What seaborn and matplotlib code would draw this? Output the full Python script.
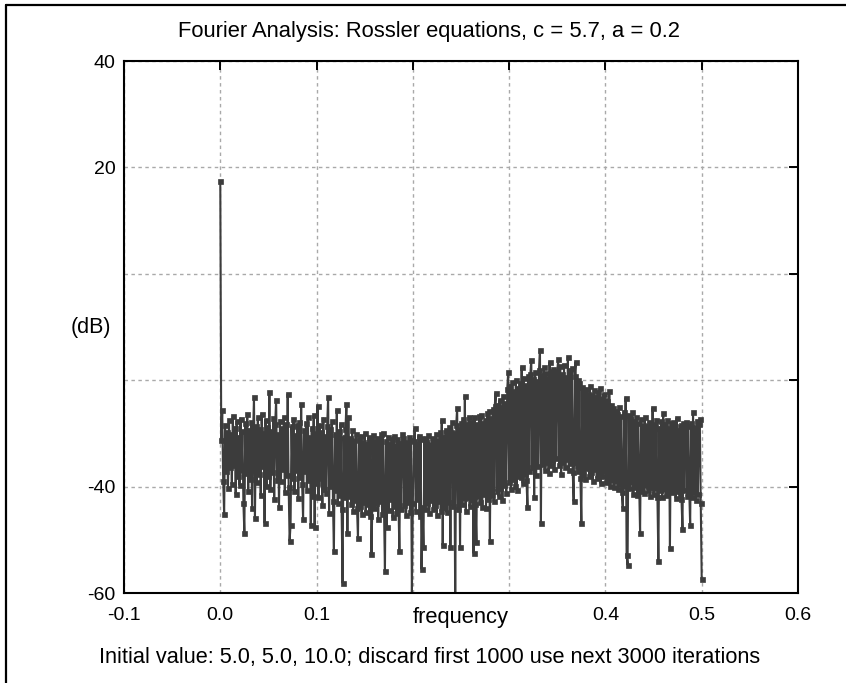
import numpy as np
import pandas as pd
import matplotlib
matplotlib.use("Agg")
import matplotlib.pyplot as plt
import seaborn as sns
from matplotlib.lines import Line2D

# ---------------- data ----------------
title_text = "Fourier Analysis: Rossler equations, c = 5.7, a = 0.2"
footer_text = "Initial value: 5.0, 5.0, 10.0; discard first 1000 use next 3000 iterations"
x_label = "frequency"
y_label = "(dB)"

x_ticks = [-0.1, 0.0, 0.1, 0.2, 0.3, 0.4, 0.5, 0.6]
x_tick_labels = ["-0.1", "0.0", "0.1", "", "", "0.4", "0.5", "0.6"]
y_ticks = [40, 20, 0, -20, -40, -60]
y_tick_labels = ["40", "20", "", "", "-40", "-60"]

freq_start = 0.0
freq_stop = 0.5

# power spectrum (dB), evenly spaced bins from 0.0 to 0.5
power_db = [
    17.4, -31.2, -25.6, -38.9, -45.2, -28.4, -37.1, -29.8, -40.2, -27.5,
    -36.4, -30.1, -39.5, -26.8, -35.9, -28.9, -41.3, -27.7, -38.0, -30.6,
    -39.7, -27.2, -36.8, -29.5, -43.1, -48.7, -28.1, -37.5, -26.4, -40.8,
    -29.3, -38.6, -27.9, -44.0, -30.4, -23.2, -45.9, -28.6, -39.2, -27.0,
    -37.7, -29.1, -41.6, -26.3, -36.2, -30.0, -46.8, -27.4, -39.9, -28.8,
    -38.1, -22.2, -40.5, -29.6, -37.3, -27.1, -42.4, -28.3, -23.7, -38.7,
    -30.2, -43.8, -27.6, -39.0, -29.0, -36.6, -26.9, -41.1, -28.2, -37.9,
    -22.6, -40.0, -50.2, -47.2, -28.7, -38.4, -27.3, -40.9, -30.3, -36.9,
    -28.5, -42.2, -27.8, -38.2, -24.5, -39.6, -46.1, -29.4, -37.0, -28.0,
    -40.7, -27.0, -38.8, -30.7, -47.2, -28.9, -41.8, -26.6, -47.6, -30.0,
    -39.3, -24.8, -42.0, -28.4, -38.3, -29.7, -43.5, -27.2, -40.4, -30.5,
    -41.2, -28.6, -23.2, -45.0, -29.2, -39.8, -27.7, -42.7, -52.1, -30.1,
    -40.6, -25.6, -43.0, -29.5, -41.5, -28.3, -44.3, -58.1, -30.6, -42.0,
    -29.1, -24.5, -48.7, -26.9, -41.8, -30.9, -43.2, -29.4, -44.6, -31.3,
    -42.5, -30.2, -44.1, -49.7, -31.0, -43.7, -30.4, -45.2, -31.6, -42.9,
    -30.0, -44.8, -31.9, -43.3, -30.7, -45.5, -31.2, -52.7, -42.6, -30.3,
    -44.0, -31.5, -43.1, -30.8, -46.0, -31.7, -42.8, -30.1, -45.1, -29.9,
    -43.9, -55.9, -31.4, -47.6, -30.6, -44.4, -32.0, -42.3, -31.1, -45.8,
    -30.5, -43.6, -32.2, -44.9, -31.0, -42.7, -52.1, -31.8, -44.2, -30.2,
    -30.9, -43.4, -31.6, -45.3, -32.1, -42.9, -30.7, -44.7, -31.3, -60.3,
    -43.0, -31.5, -29.0, -44.5, -31.9, -42.4, -30.4, -45.6, -31.1, -55.5,
    -43.8, -51.4, -30.8, -44.2, -31.7, -43.1, -30.3, -45.0, -32.0, -42.6,
    -30.9, -44.3, -31.4, -43.5, -30.1, -45.4, -31.2, -42.8, -29.8, -44.6,
    -27.5, -51.0, -30.6, -43.9, -29.4, -44.8, -30.2, -42.9, -28.8, -51.4,
    -29.7, -27.9, -43.6, -30.0, -62.5, -28.5, -25.2, -44.2, -29.1, -51.4,
    -28.0, -43.3, -27.2, -42.1, -23.0, -44.5, -28.3, -41.9, -26.9, -43.7,
    -27.8, -42.6, -28.6, -52.5, -27.0, -43.2, -50.4, -28.2, -41.7, -26.7,
    -42.9, -26.5, -43.8, -28.0, -41.4, -27.5, -44.0, -26.2, -42.3, -25.8,
    -50.2, -27.1, -41.6, -25.5, -42.8, -24.9, -22.4, -40.9, -24.6, -41.8,
    -23.8, -40.3, -25.1, -42.5, -22.9, -39.7, -24.3, -41.2, -21.7, -18.5,
    -39.1, -21.0, -40.4, -20.4, -38.5, -22.1, -39.8, -19.9, -40.7, -21.4,
    -38.0, -20.6, -38.2, -17.5, -39.3, -19.5, -37.6, -20.9, -38.8, -43.8,
    -19.3, -37.1, -18.9, -16.2, -36.4, -19.8, -42.0, -18.4, -37.9, -20.2,
    -36.2, -18.0, -14.3, -46.8, -19.1, -35.7, -17.6, -36.9, -18.7, -35.3,
    -19.6, -37.4, -16.6, -36.0, -18.3, -35.0, -17.9, -36.6, -19.0, -34.6,
    -18.2, -16.0, -35.9, -17.4, -37.6, -18.8, -35.4, -17.2, -36.3, -19.4,
    -34.9, -15.6, -36.8, -18.1, -35.6, -17.7, -37.2, -42.7, -19.2, -16.6,
    -36.1, -19.9, -37.0, -20.5, -38.3, -46.8, -21.3, -37.7, -22.0, -38.6,
    -21.6, -36.5, -22.5, -38.1, -21.0, -37.3, -22.8, -39.0, -21.9, -36.7,
    -23.1, -38.4, -22.2, -37.8, -21.5, -39.4, -23.4, -38.0, -22.6, -37.1,
    -23.7, -39.2, -24.0, -38.3, -22.0, -39.9, -24.6, -38.7, -25.2, -40.1,
    -25.7, -38.9, -26.3, -40.5, -25.0, -39.6, -26.8, -41.0, -44.0, -25.9,
    -39.8, -23.3, -52.9, -54.7, -26.5, -40.2, -27.2, -39.1, -26.0, -41.3,
    -27.6, -40.0, -26.9, -41.5, -28.1, -39.4, -48.7, -27.3, -40.8, -28.4,
    -41.2, -27.0, -39.7, -28.7, -40.6, -27.8, -41.7, -28.2, -40.0, -25.2,
    -41.4, -28.5, -40.3, -27.4, -42.0, -54.0, -28.9, -40.7, -27.7, -41.9,
    -26.2, -40.4, -28.3, -41.6, -27.5, -40.9, -29.0, -51.5, -28.0, -41.1,
    -27.9, -40.2, -28.6, -42.1, -27.1, -40.8, -29.3, -41.5, -28.4, -42.4,
    -48.0, -28.1, -40.6, -29.1, -27.9, -41.8, -28.7, -40.5, -47.2, -28.0,
    -42.0, -26.0, -41.0, -28.8, -42.6, -27.6, -41.3, -28.3, -27.3, -43.1,
    -57.4,
]
freq = np.linspace(freq_start, freq_stop, len(power_db))
df = pd.DataFrame({"frequency": freq, "power": power_db})

# ---------------- style ----------------
sns.set_style("white")
plt.rcParams["font.family"] = ["Liberation Sans", "DejaVu Sans"]
plt.rcParams["path.simplify"] = False

W, H = 846, 683
fig = plt.figure(figsize=(W / 100, H / 100), dpi=100)
fig.patch.set_facecolor("white")

ax_left, ax_right, ax_top, ax_bottom = 124, 798, 61, 593
ax = fig.add_axes([ax_left / W, 1 - ax_bottom / H,
                   (ax_right - ax_left) / W, (ax_bottom - ax_top) / H])
ax.set_facecolor("white")

mark_color = "#3c3c3c"
sns.lineplot(data=df, x="frequency", y="power", ax=ax, color=mark_color,
             linewidth=1.5, marker="s", markersize=3.6,
             markeredgecolor=mark_color, markerfacecolor=mark_color,
             markeredgewidth=0.5, estimator=None, sort=False, legend=False,
             zorder=3)

ax.set_xlim(x_ticks[0], x_ticks[-1])
ax.set_ylim(y_ticks[-1], y_ticks[0])
ax.set_xticks(x_ticks)
ax.set_xticklabels(x_tick_labels)
ax.set_yticks(y_ticks)
ax.set_yticklabels(y_tick_labels)

ax.grid(True, color="#a9a9a9", linestyle=(0, (2.5, 2.5)), linewidth=1.0, zorder=1)
ax.set_axisbelow(True)

for s in ax.spines.values():
    s.set_visible(True)
    s.set_color("black")
    s.set_linewidth(1.5)
    s.set_zorder(4)

ax.tick_params(axis="both", which="both", direction="in", length=6.5, width=1.4,
               color="black", top=True, right=True, labelsize=14,
               labelcolor="black")
ax.tick_params(axis="x", pad=10)
ax.tick_params(axis="y", pad=6)

ax.set_xlabel(x_label, fontsize=15.8, color="black")
ax.xaxis.set_label_coords(0.5, -0.027)
ax.xaxis.label.set_va("top")
ax.set_ylabel(y_label, fontsize=15.5, rotation=0, color="black")
ax.yaxis.set_label_coords(-0.049, 0.5)
ax.yaxis.label.set_va("center")
ax.yaxis.label.set_ha("center")

fig.text(429 / W, 1 - 32 / H, title_text, ha="center", va="center",
         fontsize=15.8, color="black")
fig.text(430 / W, 1 - 657 / H, footer_text, ha="center", va="center",
         fontsize=15.7, color="black")

# outer frame (top and left edges visible in the picture)
fig.add_artist(Line2D([6 / W, 1.0], [1 - 5 / H, 1 - 5 / H],
                      transform=fig.transFigure, color="black", linewidth=1.6))
fig.add_artist(Line2D([6 / W, 6 / W], [0.0, 1 - 5 / H],
                      transform=fig.transFigure, color="black", linewidth=1.6))

fig.savefig("out.png", dpi=100, facecolor="white")
